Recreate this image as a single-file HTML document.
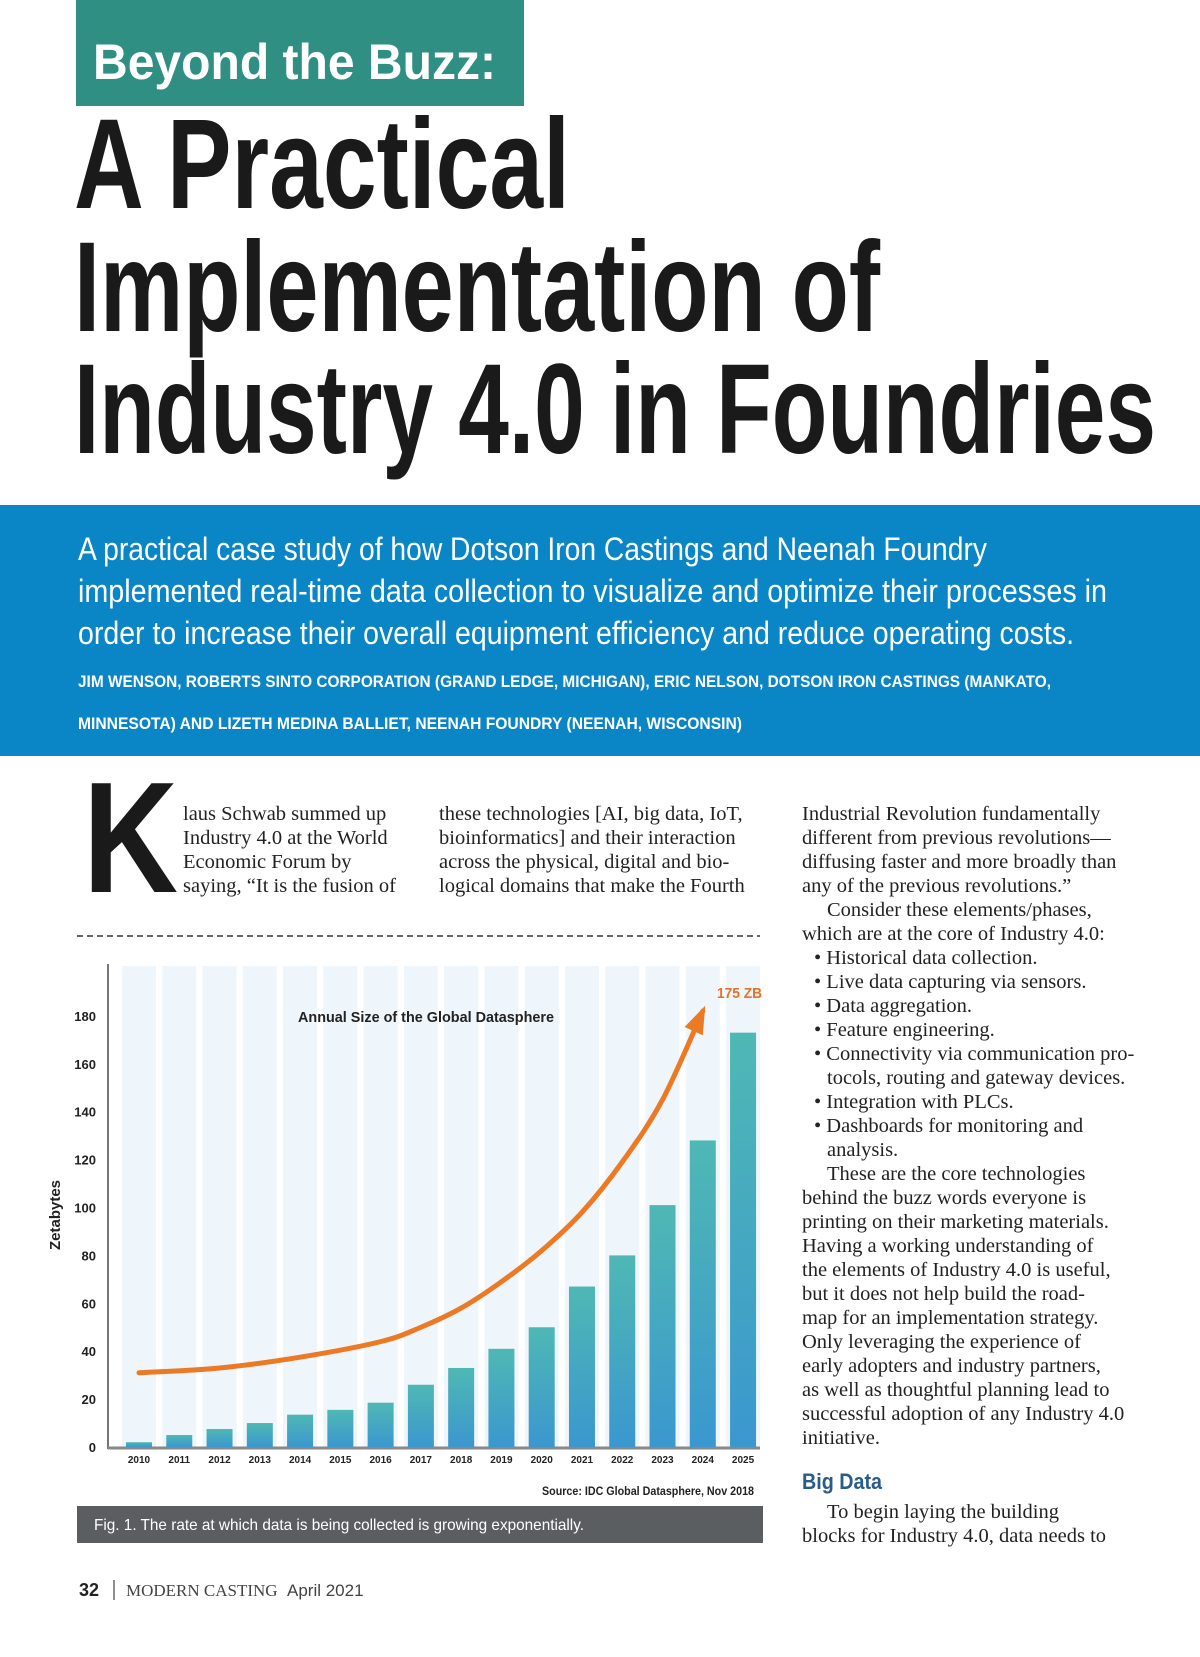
<!DOCTYPE html>
<html><head><meta charset="utf-8"><style>
html,body{margin:0;padding:0;background:#fff;}
svg{display:block;}
.serif{font-family:"Liberation Serif",serif;font-size:20.5px;fill:#222;}
.cond{font-family:"Liberation Sans",sans-serif;}
</style></head><body>
<svg id="page" width="1200" height="1657" viewBox="0 0 1200 1657" xmlns="http://www.w3.org/2000/svg">
<defs>
<linearGradient id="barg" x1="0" y1="0" x2="0" y2="1">
<stop offset="0" stop-color="#4fb8b4"/><stop offset="1" stop-color="#3b97cf"/>
</linearGradient>
</defs>
<rect x="76" y="0" width="448" height="106" fill="#2f8f83"/>
<text x="93" y="79" class="cond" font-weight="bold" font-size="50" fill="#fff" textLength="403" lengthAdjust="spacingAndGlyphs">Beyond the Buzz:</text>
<g class="cond" font-weight="bold" font-size="128" fill="#1a1a1a">
<text x="74" y="208" textLength="496" lengthAdjust="spacingAndGlyphs">A Practical</text>
<text x="74" y="331" textLength="806" lengthAdjust="spacingAndGlyphs">Implementation of</text>
<text x="74" y="453" textLength="1082" lengthAdjust="spacingAndGlyphs">Industry 4.0 in Foundries</text>
</g>
<rect x="0" y="505" width="1200" height="251" fill="#0a86c6"/>
<g class="cond" font-size="32" fill="#fff">
<text x="78" y="560" textLength="909" lengthAdjust="spacingAndGlyphs">A practical case study of how Dotson Iron Castings and Neenah Foundry</text>
<text x="78" y="602" textLength="1029" lengthAdjust="spacingAndGlyphs">implemented real-time data collection to visualize and optimize their processes in</text>
<text x="78" y="644" textLength="996" lengthAdjust="spacingAndGlyphs">order to increase their overall equipment efficiency and reduce operating costs.</text>
</g>
<g class="cond" font-size="17" font-weight="bold" fill="#fff">
<text x="78" y="687" textLength="973" lengthAdjust="spacingAndGlyphs">JIM WENSON, ROBERTS SINTO CORPORATION (GRAND LEDGE, MICHIGAN), ERIC NELSON, DOTSON IRON CASTINGS (MANKATO,</text>
<text x="78" y="729" textLength="664" lengthAdjust="spacingAndGlyphs">MINNESOTA) AND LIZETH MEDINA BALLIET, NEENAH FOUNDRY (NEENAH, WISCONSIN)</text>
</g>
<text x="83" y="892" class="cond" font-weight="bold" font-size="158" fill="#1a1a1a" textLength="95" lengthAdjust="spacingAndGlyphs">K</text>
<g class="serif">
<text x="183" y="820">laus Schwab summed up</text>
<text x="183" y="844">Industry 4.0 at the World</text>
<text x="183" y="868">Economic Forum by</text>
<text x="183" y="892">saying, “It is the fusion of</text>
</g>
<g class="serif">
<text x="439" y="820">these technologies [AI, big data, IoT,</text>
<text x="439" y="844">bioinformatics] and their interaction</text>
<text x="439" y="868">across the physical, digital and bio-</text>
<text x="439" y="892">logical domains that make the Fourth</text>
</g>
<line x1="77" y1="936" x2="760" y2="936" stroke="#333" stroke-width="1.5" stroke-dasharray="6,4"/>
<g class="serif">
<text x="802" y="820">Industrial Revolution fundamentally</text>
<text x="802" y="844">different from previous revolutions—</text>
<text x="802" y="868">diffusing faster and more broadly than</text>
<text x="802" y="892">any of the previous revolutions.”</text>
<text x="827" y="916">Consider these elements/phases,</text>
<text x="802" y="940">which are at the core of Industry 4.0:</text>
<text x="814" y="964">• Historical data collection.</text>
<text x="814" y="988">• Live data capturing via sensors.</text>
<text x="814" y="1012">• Data aggregation.</text>
<text x="814" y="1036">• Feature engineering.</text>
<text x="814" y="1060">• Connectivity via communication pro-</text>
<text x="827" y="1084">tocols, routing and gateway devices.</text>
<text x="814" y="1108">• Integration with PLCs.</text>
<text x="814" y="1132">• Dashboards for monitoring and</text>
<text x="827" y="1156">analysis.</text>
<text x="827" y="1180">These are the core technologies</text>
<text x="802" y="1204">behind the buzz words everyone is</text>
<text x="802" y="1228">printing on their marketing materials.</text>
<text x="802" y="1252">Having a working understanding of</text>
<text x="802" y="1276">the elements of Industry 4.0 is useful,</text>
<text x="802" y="1300">but it does not help build the road-</text>
<text x="802" y="1324">map for an implementation strategy.</text>
<text x="802" y="1348">Only leveraging the experience of</text>
<text x="802" y="1372">early adopters and industry partners,</text>
<text x="802" y="1396">as well as thoughtful planning lead to</text>
<text x="802" y="1420">successful adoption of any Industry 4.0</text>
<text x="802" y="1444">initiative.</text>
<text x="827" y="1518">To begin laying the building</text>
<text x="802" y="1542">blocks for Industry 4.0, data needs to</text>
</g>
<text x="802" y="1489" class="cond" font-weight="bold" font-size="22" fill="#2a5c8a" textLength="80" lengthAdjust="spacingAndGlyphs">Big Data</text>

<g id="chart"></g>

<rect x="77" y="1506" width="686" height="37" fill="#5b5e61"/>
<text x="94" y="1530" class="cond" font-size="16" fill="#fff" textLength="490" lengthAdjust="spacingAndGlyphs">Fig. 1. The rate at which data is being collected is growing exponentially.</text>

<g>
<text x="79" y="1596" class="cond" font-weight="bold" font-size="18" fill="#222">32</text>
<line x1="114" y1="1580" x2="114" y2="1600" stroke="#444" stroke-width="1.2"/>
<text x="126" y="1596" font-family="Liberation Serif,serif" font-size="17" fill="#444">MODERN CASTING</text>
<text x="287" y="1596" class="cond" font-size="17" fill="#444">April 2021</text>
</g>
</svg>
<script>
const years = ["2010","2011","2012","2013","2014","2015","2016","2017","2018","2019","2020","2021","2022","2023","2024","2025"];
const values = [2, 5, 7.5, 10, 13.5, 15.5, 18.5, 26, 33, 41, 50, 67, 80, 101, 128, 173];
const yTicks = [0, 20, 40, 60, 80, 100, 120, 140, 160, 180];
const trendYears = [0, 2, 4, 6, 7, 8, 9, 10, 11, 12, 13, 14];
const trendVals = [31, 33, 37.5, 44, 50, 58, 69, 82, 98, 119, 145, 182];
const NS = "http://www.w3.org/2000/svg";
const g = document.getElementById('chart');
const zeroY = 1447, perUnit = 2.395, x0c = 139, step = 40.27, bw = 26;
function yS(v){ return zeroY - v * perUnit; }
function xS(i){ return x0c + i * step; }
function mk(tag, attrs, parent){ const e = document.createElementNS(NS, tag); for (const k in attrs) e.setAttribute(k, attrs[k]); (parent||g).appendChild(e); return e; }
years.forEach((y, i) => {
  const s = mk('rect', {x: xS(i) - 17, y: 966, width: 34, height: zeroY - 966, fill: '#eef5fb'});
  
  
});
const axY = mk('line', {x1: 108, y1: 964, x2: 108, y2: zeroY + 2, stroke: '#777', 'stroke-width': 2});


const axX = mk('line', {x1: 108, y1: zeroY + 1, x2: 760, y2: zeroY + 1, stroke: '#888', 'stroke-width': 3});


yTicks.forEach(t => {
  const e = mk('text', {x: 96, y: yS(t) + 5, 'text-anchor': 'end', 'font-family': 'Liberation Sans,sans-serif', 'font-weight': 'bold', 'font-size': 13, fill: '#222'});
  e.textContent = t;
  
  
});
values.forEach((v, i) => {
  const r = mk('rect', {x: xS(i) - bw/2, y: yS(v), width: bw, height: v * perUnit, fill: 'url(#barg)'});
  
  
  const t = mk('text', {x: xS(i), y: 1463, 'text-anchor': 'middle', 'font-family': 'Liberation Sans,sans-serif', 'font-weight': 'bold', 'font-size': 10, fill: '#222'});
  t.textContent = years[i];
  
  
});
const pts = trendYears.map((ti, k) => [xS(ti), yS(trendVals[k])]);
let d = 'M' + pts[0][0] + ' ' + pts[0][1];
for (let k = 0; k < pts.length - 1; k++) {
  const p0 = pts[Math.max(0, k-1)], p1 = pts[k], p2 = pts[k+1], p3 = pts[Math.min(pts.length-1, k+2)];
  const c1x = p1[0] + (p2[0]-p0[0])/6, c1y = p1[1] + (p2[1]-p0[1])/6;
  const c2x = p2[0] - (p3[0]-p1[0])/6, c2y = p2[1] - (p3[1]-p1[1])/6;
  d += ` C${c1x} ${c1y} ${c2x} ${c2y} ${p2[0]} ${p2[1]}`;
}
const p = mk('path', {d: d, fill: 'none', stroke: '#ec7a24', 'stroke-width': 5, 'stroke-linejoin': 'round', 'stroke-linecap': 'round'});


const n = pts.length;
const tx = pts[n-1][0], ty = pts[n-1][1];
const px = pts[n-2][0], py = pts[n-2][1];
const ang = Math.atan2(ty - py, tx - px), L = 22, W = 10;
const bx = tx - L*Math.cos(ang), by = ty - L*Math.sin(ang);
const head = mk('polygon', {points: `${tx+6*Math.cos(ang)},${ty+6*Math.sin(ang)} ${bx - W*Math.sin(ang)},${by + W*Math.cos(ang)} ${bx + W*Math.sin(ang)},${by - W*Math.cos(ang)}`, fill: '#ec7a24'});


const title = mk('text', {x: 426, y: 1022, 'text-anchor': 'middle', 'font-family': 'Liberation Sans,sans-serif', 'font-weight': 'bold', 'font-size': 15, fill: '#222', textLength: 256, lengthAdjust: 'spacingAndGlyphs'});
title.textContent = 'Annual Size of the Global Datasphere';


const zb = mk('text', {x: 762, y: 998, 'text-anchor': 'end', 'font-family': 'Liberation Sans,sans-serif', 'font-weight': 'bold', 'font-size': 15, fill: '#e8712a', textLength: 45, lengthAdjust: 'spacingAndGlyphs'});
zb.textContent = '175 ZB';


const yt = mk('text', {x: 0, y: 0, 'text-anchor': 'middle', 'font-family': 'Liberation Sans,sans-serif', 'font-weight': 'bold', 'font-size': 15, fill: '#222', transform: 'translate(60,1215) rotate(-90)'});
yt.textContent = 'Zetabytes';


const src = mk('text', {x: 754, y: 1495, 'text-anchor': 'end', 'font-family': 'Liberation Sans,sans-serif', 'font-weight': 'bold', 'font-size': 12, fill: '#222', textLength: 212, lengthAdjust: 'spacingAndGlyphs'});
src.textContent = 'Source: IDC Global Datasphere, Nov 2018';


</script>
</body></html>
